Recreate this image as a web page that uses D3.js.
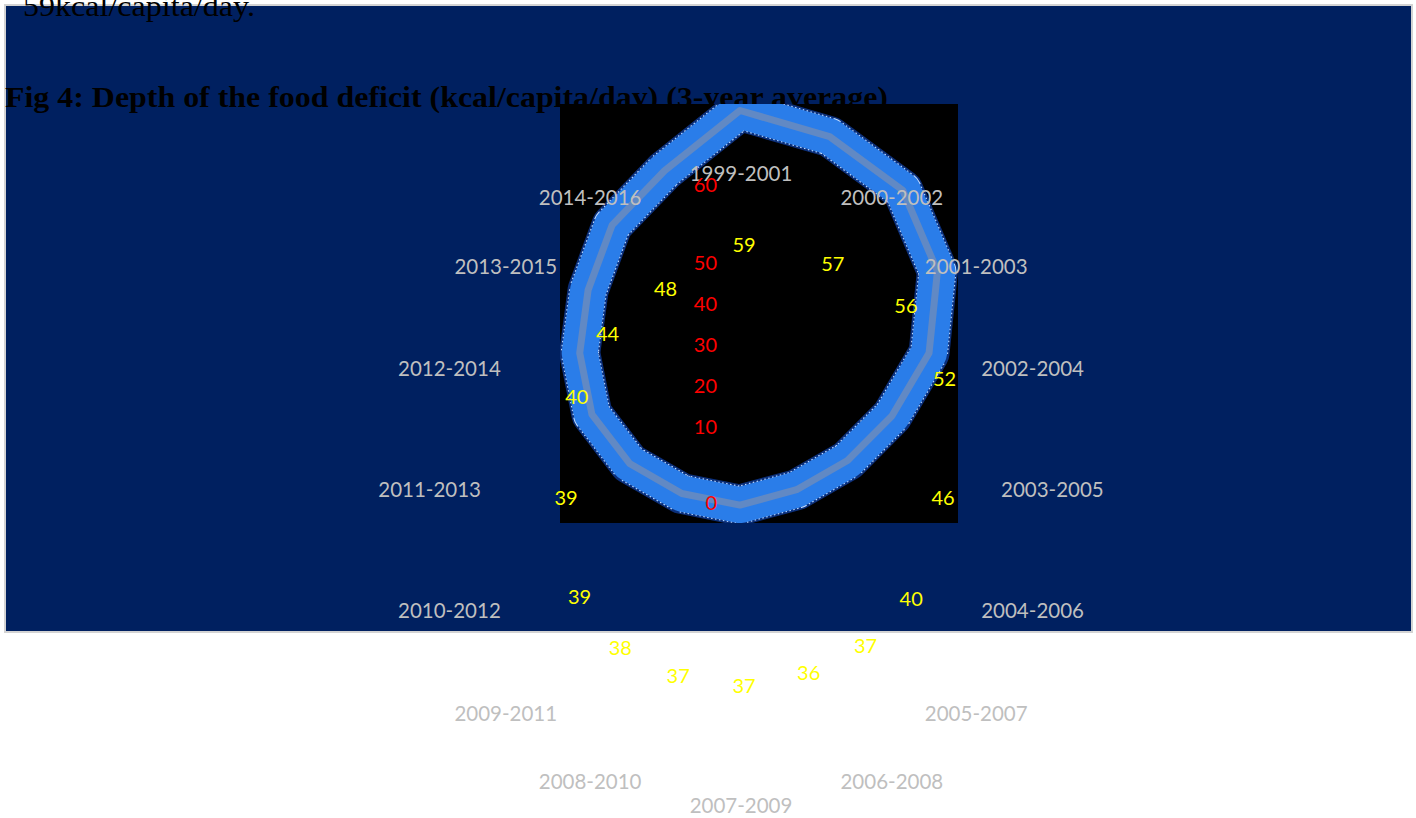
<!DOCTYPE html>
<html>
<head>
<meta charset="utf-8">
<script src="https://cdn.jsdelivr.net/npm/d3@7"></script>
<style>
  body { margin: 0; background: #fff; }
  svg { display: block; }
  .cat { font-family: Lato, "Open Sans", sans-serif; font-size: 20.5px; fill: #bfbfbf; }
  .val { font-family: Lato, "Open Sans", sans-serif; font-size: 20px; fill: #ffff00; }
  .tick { font-family: Lato, "Open Sans", sans-serif; font-size: 20px; fill: #ff0000; }
</style>
</head>
<body>
<div id="chart"></div>
<script>
// periods (3-year averages) and depth of food deficit, kcal/capita/day
const periods = ["1999-2001","2000-2002","2001-2003","2002-2004","2003-2005","2004-2006",
                 "2005-2007","2006-2008","2007-2009","2008-2010","2009-2011","2010-2012",
                 "2011-2013","2012-2014","2013-2015","2014-2016"];
const deficit = [59,57,56,52,46,40,37,36,37,37,38,39,39,40,44,48];
const axisTicks = [0,10,20,30,40,50,60];

const width = 1416, height = 818;

var svg = d3.select("#chart").append("svg")
    .attr("width", width)
    .attr("height", height);

// dark page panel
svg.append("rect")
   .attr("x", 5).attr("y", 5)
   .attr("width", 1407).attr("height", 627)
   .attr("fill", "#002060")
   .attr("stroke", "#d3d3d3")
   .attr("stroke-width", 2);

svg.append("text")
   .attr("x", 23).attr("y", 16)
   .attr("font-family", "'Liberation Serif', 'DejaVu Serif', serif")
   .attr("font-size", 30)
   .attr("textLength", 232)
   .attr("lengthAdjust", "spacingAndGlyphs")
   .text("59kcal/capita/day.");

svg.append("text")
   .attr("x", 5).attr("y", 107)
   .attr("font-family", "'Liberation Serif', 'DejaVu Serif', serif")
   .attr("font-size", 30)
   .attr("font-weight", "bold")
   .attr("textLength", 883)
   .attr("lengthAdjust", "spacingAndGlyphs")
   .text("Fig 4: Depth of the food deficit (kcal/capita/day) (3-year average)");

// plot area (black square) -- covers the bottom of the title
var plot = {x: 560, y: 104, w: 398, h: 419};
svg.append("rect")
   .attr("x", plot.x).attr("y", plot.y)
   .attr("width", plot.w).attr("height", plot.h)
   .attr("fill", "#000");

svg.append("clipPath").attr("id", "plotClip")
   .append("rect")
   .attr("x", plot.x).attr("y", plot.y)
   .attr("width", plot.w).attr("height", plot.h);

var angle = d3.scaleLinear().domain([0, periods.length]).range([0, 2 * Math.PI]);
var rRing = d3.scaleLinear().domain([0, 60]).range([0, 246.6]);

var ringLine = d3.lineRadial()
    .angle(function (d, i) { return angle(i); })
    .radius(function (d) { return rRing(d); })
    .curve(d3.curveLinearClosed);

var ring = svg.append("g")
    .attr("clip-path", "url(#plotClip)")
    .append("g")
    .attr("transform", "translate(740,353)");

// dark fringe, speckled light edge, thick blue band, grey centre line
ring.append("path").datum(deficit)
    .attr("d", ringLine)
    .attr("fill", "none")
    .attr("stroke", "#0b2f7a")
    .attr("stroke-width", 41)
    .attr("stroke-linejoin", "round");
ring.append("path").datum(deficit)
    .attr("d", ringLine)
    .attr("fill", "none")
    .attr("stroke", "#c2dcff")
    .attr("stroke-width", 38)
    .attr("stroke-dasharray", "1.5,2.5")
    .attr("stroke-linejoin", "round");
ring.append("path").datum(deficit)
    .attr("d", ringLine)
    .attr("fill", "none")
    .attr("stroke", "#2a7de9")
    .attr("stroke-width", 36)
    .attr("stroke-linejoin", "round");
ring.append("path").datum(deficit)
    .attr("d", ringLine)
    .attr("fill", "none")
    .attr("stroke", "#6189c4")
    .attr("stroke-width", 7)
    .attr("stroke-linejoin", "round");

// category labels (laid out on a wider ellipse)
var catC = {x: 741, y: 490}, catRx = 260, catRy = 316;
svg.append("g").selectAll("text")
   .data(periods)
   .enter().append("text")
   .attr("class", "cat")
   .attr("x", function (d, i) { return catC.x + catRx * Math.sin(angle(i)); })
   .attr("y", function (d, i) { return catC.y - catRy * Math.cos(angle(i)); })
   .attr("dy", "0.35em")
   .attr("text-anchor", function (d, i) {
     var s = Math.sin(angle(i));
     return s > 0.01 ? "start" : (s < -0.01 ? "end" : "middle");
   })
   .text(function (d) { return d; });

// radial axis tick labels
var tickY = d3.scaleLinear().domain([0, 10, 50, 60]).range([503, 427, 263, 185]);
svg.append("g").selectAll("text")
   .data(axisTicks)
   .enter().append("text")
   .attr("class", "tick")
   .attr("x", 717)
   .attr("y", function (d) { return tickY(d); })
   .attr("dy", "0.35em")
   .attr("text-anchor", "end")
   .text(function (d) { return d; });

// value labels
var valC = {x: 744, y: 498};
var rValX = d3.scaleLinear().domain([0, 60]).range([61, 241]);
var rValY = d3.scaleLinear().domain([0, 60]).range([79, 256]);
svg.append("g").selectAll("text")
   .data(deficit)
   .enter().append("text")
   .attr("class", "val")
   .attr("x", function (d, i) { return valC.x + rValX(d) * Math.sin(angle(i)); })
   .attr("y", function (d, i) {
     var c = Math.cos(angle(i));
     return valC.y - rValY(d) * Math.sign(c) * Math.pow(Math.abs(c), 0.7);
   })
   .attr("dy", "0.35em")
   .attr("text-anchor", "middle")
   .text(function (d) { return d; });
</script>
</body>
</html>
